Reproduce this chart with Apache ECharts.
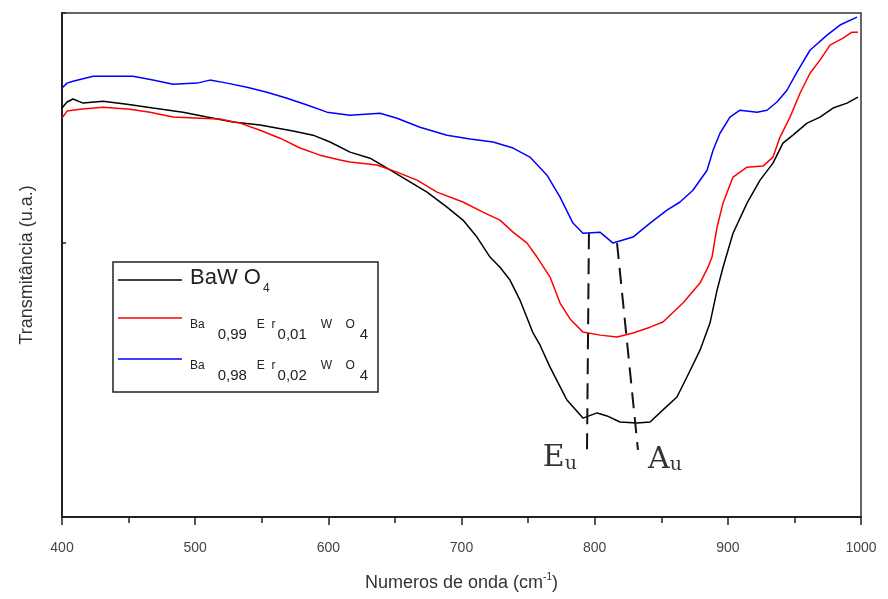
<!DOCTYPE html>
<html>
<head>
<meta charset="utf-8">
<script src="https://cdn.jsdelivr.net/npm/echarts@6/dist/echarts.min.js"></script>
<style>
html,body{margin:0;padding:0;background:#fff;}
#chart{width:888px;height:599px;}
</style>
</head>
<body>
<div id="chart"></div>
<script>
// ---- Data (wavenumber in cm^-1, transmittance in arbitrary units) ----
var xTicks = [400, 500, 600, 700, 800, 900, 1000];

var bawo4X = [400.0, 403.8, 408.3, 415.8, 430.8, 448.8, 468.3, 490.9, 508.9, 528.4, 548.7, 573.5, 588.5, 601.3, 616.3, 631.3, 644.1, 659.1, 674.1, 689.1, 701.1, 711.6, 721.4, 728.9, 736.4, 743.9, 753.7, 758.9, 766.5, 779.2, 791.2, 801.8, 809.3, 819.0, 831.8, 841.6, 851.3, 861.8, 869.3, 879.1, 886.6, 891.9, 896.4, 903.9, 914.4, 924.2, 933.9, 941.4, 948.9, 959.5, 969.2, 979.0, 989.5, 997.7];
var bawo4Y = [1.493, 1.515, 1.526, 1.511, 1.518, 1.507, 1.493, 1.478, 1.460, 1.442, 1.431, 1.409, 1.394, 1.369, 1.332, 1.310, 1.274, 1.230, 1.186, 1.131, 1.084, 1.022, 0.949, 0.912, 0.865, 0.792, 0.672, 0.628, 0.547, 0.427, 0.361, 0.380, 0.369, 0.347, 0.343, 0.347, 0.391, 0.438, 0.511, 0.609, 0.708, 0.828, 0.912, 1.036, 1.146, 1.230, 1.292, 1.365, 1.394, 1.438, 1.460, 1.493, 1.511, 1.533];

var er01X = [400.0, 403.8, 413.5, 430.8, 451.1, 466.1, 483.4, 503.6, 518.6, 533.7, 548.7, 563.7, 578.7, 593.7, 608.8, 616.3, 636.5, 651.6, 666.6, 681.6, 701.1, 716.1, 728.9, 738.7, 749.2, 756.7, 766.5, 774.0, 781.5, 791.2, 804.0, 816.8, 828.8, 841.6, 851.3, 866.3, 879.1, 885.1, 888.1, 891.9, 896.4, 903.9, 914.4, 926.4, 933.9, 939.2, 946.7, 954.2, 961.7, 969.2, 976.7, 986.5, 993.2, 997.7];
var er01Y = [1.456, 1.482, 1.489, 1.496, 1.489, 1.478, 1.460, 1.456, 1.453, 1.438, 1.412, 1.383, 1.347, 1.321, 1.303, 1.296, 1.285, 1.259, 1.230, 1.186, 1.150, 1.113, 1.084, 1.040, 1.000, 0.949, 0.876, 0.781, 0.723, 0.675, 0.664, 0.657, 0.672, 0.693, 0.712, 0.781, 0.854, 0.912, 0.949, 1.058, 1.146, 1.241, 1.277, 1.281, 1.314, 1.387, 1.460, 1.547, 1.620, 1.668, 1.723, 1.748, 1.770, 1.770];

var er02X = [400.0, 403.8, 408.3, 423.3, 453.3, 468.3, 483.4, 501.4, 511.1, 523.9, 538.9, 553.9, 569.0, 584.0, 599.0, 616.3, 638.8, 651.6, 668.8, 689.1, 706.4, 723.7, 738.7, 751.4, 764.2, 774.0, 783.7, 791.2, 804.0, 813.8, 828.8, 841.6, 854.3, 864.1, 873.8, 884.4, 888.9, 894.1, 901.6, 909.1, 921.9, 929.4, 936.9, 944.4, 951.9, 961.7, 974.5, 984.2, 997.0];
var er02Y = [1.566, 1.584, 1.591, 1.609, 1.609, 1.595, 1.580, 1.584, 1.595, 1.584, 1.569, 1.551, 1.529, 1.504, 1.478, 1.467, 1.474, 1.456, 1.423, 1.394, 1.380, 1.369, 1.347, 1.314, 1.248, 1.168, 1.073, 1.036, 1.040, 1.000, 1.022, 1.073, 1.120, 1.150, 1.193, 1.266, 1.339, 1.401, 1.460, 1.485, 1.478, 1.485, 1.515, 1.558, 1.624, 1.704, 1.759, 1.796, 1.825];

// Band markers (dashed guide lines) and their labels
var euLineX = [795.7, 794.2];
var euLineY = [1.036, 0.219];
var auLineX = [816.8, 832.5];
var auLineY = [1.000, 0.245];
var bandLabels = ['Eu', 'Au'];
var bandLabelX = [773.9, 852.8];
var bandLabelY = [0.215, 0.208];

var seriesNames = ['BaWO4', 'Ba0,99Er0,01WO4', 'Ba0,98Er0,02WO4'];
var seriesColors = ['#000000', '#ff0000', '#0000ff'];

function zip(xs, ys) { return xs.map(function (x, i) { return [x, ys[i]]; }); }

var chart = echarts.init(document.getElementById('chart'), null, { renderer: 'canvas' });

var FONT = 'Liberation Sans, Arial, sans-serif';
var legendRich = {
  big: { fontSize: 22, fontFamily: FONT, fill: '#222', verticalAlign: 'bottom', padding: [0, 0, 6, 0] },
  bsub: { fontSize: 12, fontFamily: FONT, fill: '#222', verticalAlign: 'bottom', padding: [0, 0, 0, 2] },
  s: { fontSize: 12, fontFamily: FONT, fill: '#222', verticalAlign: 'bottom', padding: [0, 0, 11, 0] },
  s2: { fontSize: 12, fontFamily: FONT, fill: '#222', verticalAlign: 'bottom', padding: [0, 4, 11, 6] },
  sub1: { fontSize: 15, fontFamily: FONT, fill: '#222', verticalAlign: 'bottom', padding: [0, 10, 0, 13] },
  sub2: { fontSize: 15, fontFamily: FONT, fill: '#222', verticalAlign: 'bottom', padding: [0, 8, 0, 2] },
  sub4: { fontSize: 15, fontFamily: FONT, fill: '#222', verticalAlign: 'bottom', padding: [0, 0, 0, 1] }
};
var legendTexts = [
  '{big|BaW O}{bsub|4}',
  '{s|Ba}{sub1|0,99}{s|E  r}{sub2|0,01}{s2|W    O}{sub4|4}',
  '{s|Ba}{sub1|0,98}{s|E  r}{sub2|0,02}{s2|W    O}{sub4|4}'
];
var legendLineY = [280, 318, 359];
var legendTextTop = [267, 319, 360];

var legendGraphics = [{
  type: 'rect', z: 100, shape: { x: 113, y: 262, width: 265, height: 130 },
  style: { fill: '#fff', stroke: '#222', lineWidth: 1.5 }
}];
seriesNames.forEach(function (n, i) {
  legendGraphics.push({
    type: 'line', z: 101, shape: { x1: 118, y1: legendLineY[i], x2: 182, y2: legendLineY[i] },
    style: { stroke: seriesColors[i], lineWidth: 1.5 }
  });
  legendGraphics.push({
    type: 'text', z: 101, x: 190, y: legendTextTop[i],
    style: { text: legendTexts[i], rich: legendRich, verticalAlign: 'top', align: 'left', fill: '#222', font: '12px ' + FONT }
  });
});

var lineW = 1.5;

var option = {
  animation: false,
  backgroundColor: '#ffffff',
  grid: { left: 62, right: 27, top: 13, bottom: 82, show: true, borderColor: '#333', borderWidth: 1.5, backgroundColor: 'transparent' },
  graphic: legendGraphics,
  xAxis: {
    type: 'value',
    min: 400,
    max: 1000,
    interval: 100,
    name: '{n|Numeros de onda (cm}{sup|-1}{n|)}',
    nameLocation: 'middle',
    nameGap: 55,
    nameTextStyle: {
      rich: {
        n: { fontSize: 18, fontFamily: FONT, color: '#333', verticalAlign: 'bottom' },
        sup: { fontSize: 10, fontFamily: FONT, color: '#333', verticalAlign: 'bottom', padding: [0, 0, 10, 0] }
      }
    },
    axisLine: { show: true, lineStyle: { color: '#222', width: 2 } },
    axisTick: { show: true, inside: false, length: 8, lineStyle: { color: '#222', width: 1.5 } },
    minorTick: { show: true, splitNumber: 2, length: 6, lineStyle: { color: '#222', width: 1.5 } },
    axisLabel: { show: true, margin: 24, fontSize: 14, color: '#444', fontFamily: FONT,
      formatter: function (v) { return xTicks.indexOf(v) >= 0 ? String(v) : ''; } },
    splitLine: { show: false }
  },
  yAxis: {
    type: 'value',
    min: 0,
    max: 1.84,
    interval: 1,
    name: 'Transmitância (u.a.)',
    nameLocation: 'middle',
    nameGap: 26,
    nameTextStyle: { fontSize: 18, fontFamily: FONT, color: '#333' },
    axisLine: { show: true, lineStyle: { color: '#222', width: 2 } },
    axisTick: { show: true, inside: true, length: 4, lineStyle: { color: '#222', width: 1.5 } },
    axisLabel: { show: false },
    splitLine: { show: false }
  },
  series: [
    { name: seriesNames[0], type: 'line', data: zip(bawo4X, bawo4Y), symbol: 'none', lineStyle: { color: seriesColors[0], width: lineW } },
    { name: seriesNames[1], type: 'line', data: zip(er01X, er01Y), symbol: 'none', lineStyle: { color: seriesColors[1], width: lineW } },
    { name: seriesNames[2], type: 'line', data: zip(er02X, er02Y), symbol: 'none', lineStyle: { color: seriesColors[2], width: lineW } },
    { name: 'Eu line', type: 'line', data: zip(euLineX, euLineY), symbol: 'none', silent: true,
      lineStyle: { color: '#111', width: 2, type: [16, 9] } },
    { name: 'Au line', type: 'line', data: zip(auLineX, auLineY), symbol: 'none', silent: true,
      lineStyle: { color: '#111', width: 2, type: [16, 9] } },
    { name: 'bands', type: 'scatter', symbolSize: 0, silent: true,
      data: bandLabels.map(function (t, i) { return { value: [bandLabelX[i], bandLabelY[i]], name: t }; }),
      label: {
        show: true, position: 'inside',
        formatter: function (p) { return '{e|' + p.name.charAt(0) + '}{u|' + p.name.charAt(1) + '}'; },
        rich: {
          e: { fontSize: 30, fontFamily: 'DejaVu Serif, serif', color: '#000', verticalAlign: 'bottom' },
          u: { fontSize: 19, fontFamily: 'DejaVu Serif, serif', color: '#000', verticalAlign: 'bottom' }
        }
      }
    }
  ]
};
chart.setOption(option);
</script>
</body>
</html>
